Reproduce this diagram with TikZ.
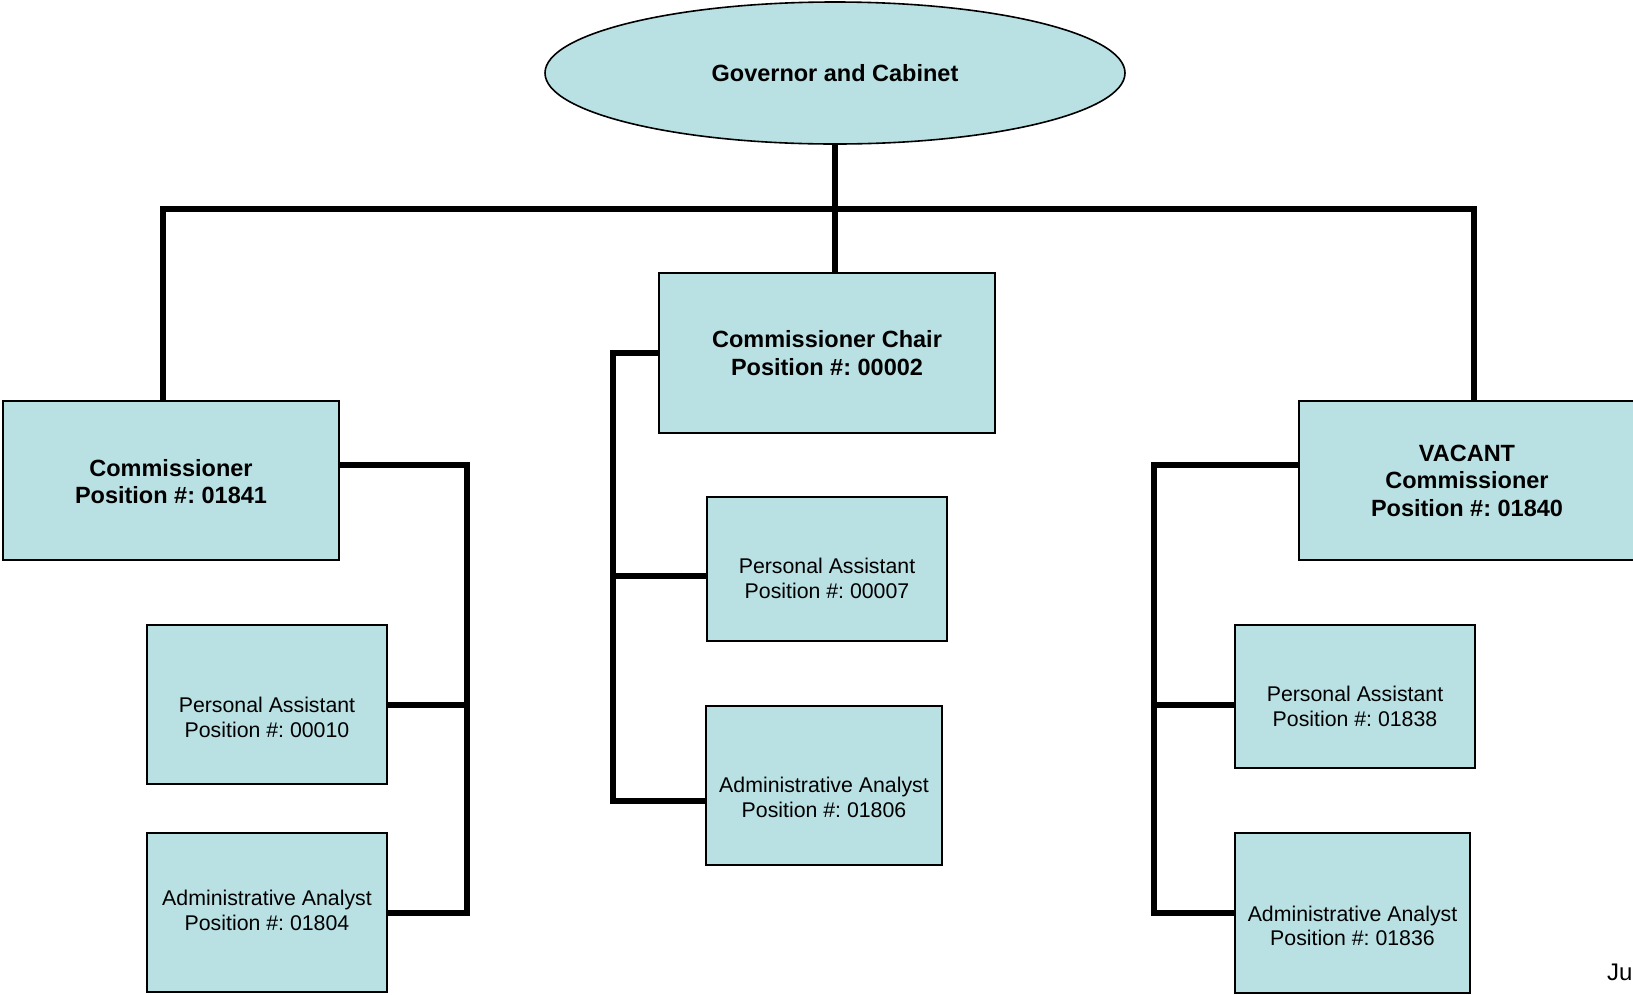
\documentclass[tikz,border=0pt]{standalone}
\usepackage{fontspec}
\setmainfont{Liberation Sans}
\usetikzlibrary{shapes.geometric}
\frenchspacing
\definecolor{boxfill}{RGB}{185,224,227}
\tikzset{
  box/.style={draw=black, line width=2pt, fill=boxfill, rectangle, inner sep=0pt},
  oval/.style={draw=black, line width=1.6pt, fill=boxfill, ellipse, inner sep=0pt},
  btxt/.style={align=center, font={\frenchspacing\fontsize{23.5}{27.5}\selectfont\bfseries}, inner sep=0pt},
  ptxt/.style={align=center, font={\frenchspacing\fontsize{21.3}{24.5}\selectfont}, inner sep=0pt},
  conn/.style={draw=black, line width=6pt, line join=miter}
}
\begin{document}
\begin{tikzpicture}[x=1pt,y=-1pt]
\useasboundingbox (0,0) rectangle (1633,994);
% top
\node[oval, minimum width=580pt, minimum height=142pt] (gov) at (835,73) {};
\node[btxt] (govt) at (gov.center) {Governor and Cabinet};
% level 2
\node[box, minimum width=336pt, minimum height=159pt] (comm) at (171,480.5) {};
\node[btxt] (commt) at ([yshift=-1pt]comm.center) {Commissioner\\Position \#: 01841};
\node[box, minimum width=336pt, minimum height=160pt] (chair) at (827,353) {};
\node[btxt] (chairt) at (chair.center) {Commissioner Chair\\Position \#: 00002};
\node[box, minimum width=336pt, minimum height=159pt] (vac) at (1467,480.5) {};
\node[btxt] (vact) at (vac.center) {VACANT\\Commissioner\\Position \#: 01840};
% left group
\node[box, minimum width=240pt, minimum height=159pt] (pa1) at (267,704.5) {};
\node[ptxt] (pa1t) at ([yshift=-13pt]pa1.center) {Personal Assistant\\Position \#: 00010};
\node[box, minimum width=240pt, minimum height=159pt] (aa1) at (267,912.5) {};
\node[ptxt] (aa1t) at ([yshift=2pt]aa1.center) {Administrative Analyst\\Position \#: 01804};
% middle group
\node[box, minimum width=240pt, minimum height=144pt] (pa2) at (827,569) {};
\node[ptxt] (pa2t) at ([yshift=-9.5pt]pa2.center) {Personal Assistant\\Position \#: 00007};
\node[box, minimum width=236pt, minimum height=159pt] (aa2) at (824,785) {};
\node[ptxt] (aa2t) at ([yshift=-12.5pt]aa2.center) {Administrative Analyst\\Position \#: 01806};
% right group
\node[box, minimum width=240pt, minimum height=143pt] (pa3) at (1355,696.5) {};
\node[ptxt] (pa3t) at ([yshift=-10pt]pa3.center) {Personal Assistant\\Position \#: 01838};
\node[box, minimum width=235pt, minimum height=160pt] (aa3) at (1352.5,913) {};
\node[ptxt] (aa3t) at ([yshift=-13pt]aa3.center) {Administrative Analyst\\Position \#: 01836};
% footer fragment
\node[anchor=base west, inner sep=0pt, font={\fontsize{24}{28}\selectfont}] (date) at (1607,980) {Ju};
% connector helper coordinates
\coordinate (busL) at (163,209);
\coordinate (busR) at (1474,209);
\coordinate (lb) at (467,465);
\coordinate (mb) at (613,353);
\coordinate (rb) at (1154,465);
% connectors
\path[conn] (gov.south) -- (gov.south |- chair.north);
\path[conn] (busL |- comm.north) -- (busL) -- (busR) -- (busR |- vac.north);
\path[conn] (comm.east |- lb) -- (lb) -- (lb |- aa1.east) -- (aa1.east);
\path[conn] (pa1.east) -- (lb |- pa1.east);
\path[conn] (chair.west |- mb) -- (mb) -- (mb |- 0,801) -- (aa2.west |- 0,801);
\path[conn] (mb |- 0,576) -- (pa2.west |- 0,576);
\path[conn] (vac.west |- rb) -- (rb) -- (rb |- aa3.west) -- (aa3.west);
\path[conn] (rb |- 0,705) -- (pa3.west |- 0,705);
\end{tikzpicture}
\end{document}
